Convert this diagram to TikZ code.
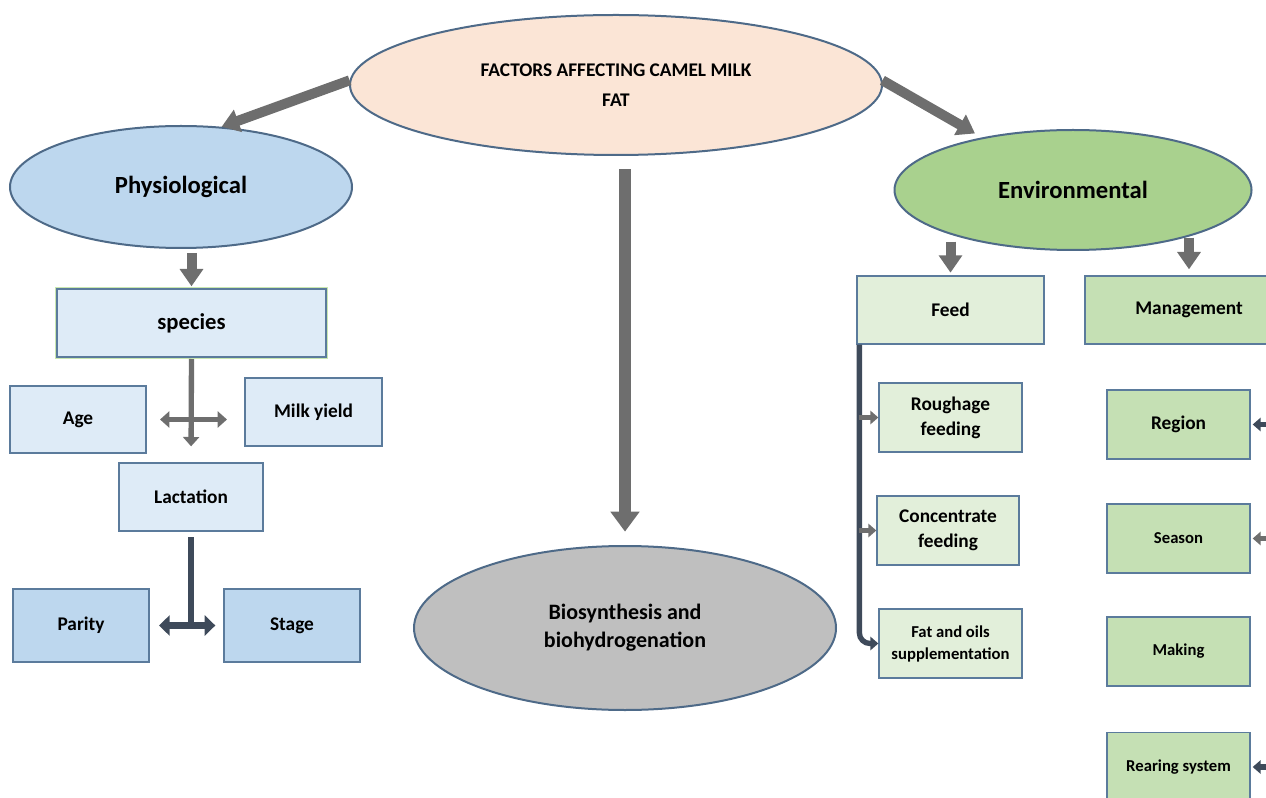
\documentclass[tikz,border=0pt]{standalone}
\usepackage{fontspec}
\setmainfont{Carlito}
\usetikzlibrary{shapes.geometric,arrows.meta}

\definecolor{peach}{HTML}{FBE5D6}
\definecolor{physblue}{HTML}{BDD7EE}
\definecolor{paleblue}{HTML}{DEEBF7}
\definecolor{envgreen}{HTML}{A9D18E}
\definecolor{palegreen}{HTML}{E2EFDA}
\definecolor{midgreen}{HTML}{C5E0B4}
\definecolor{biogray}{HTML}{BFBFBF}
\definecolor{edgeblue}{HTML}{5B7B9C}
\definecolor{rimblue}{HTML}{4E6A88}
\definecolor{arrowgray}{HTML}{6E6E6E}
\definecolor{darkline}{HTML}{3E4A5A}
\definecolor{glowgreen}{HTML}{C9E7B0}

\tikzset{
  oval/.style={ellipse, draw=rimblue, line width=1.5pt, inner sep=0pt, align=center},
  factor/.style={rectangle, draw=edgeblue, line width=1pt, inner sep=2pt, align=center,
    font=\fontsize{14.5}{18.75}\selectfont\bfseries},
  smalltext/.style={font=\fontsize{12.5}{16.5}\selectfont\bfseries},
  bigarrow/.style={draw=arrowgray, line width=7.5pt, -{Triangle[width=17pt,length=13pt]}},
  thinarrow/.style={draw=arrowgray, line width=4pt, -{Triangle[width=12pt,length=7pt]}},
  darkarrow/.style={draw=darkline, line width=4pt, -{Triangle[width=10pt,length=6pt]}}
}

\begin{document}
\begin{tikzpicture}[x=0.75pt,y=-0.75pt]
\useasboundingbox (0,0) rectangle (1266,798);

% ellipses
\node[oval, fill=peach, minimum width=399pt, minimum height=105pt,
  font=\fontsize{14.5}{22.5}\selectfont\bfseries] (title) at (616,85)
  {FACTORS AFFECTING CAMEL MILK\\FAT};
\node[oval, fill=physblue, minimum width=256.5pt, minimum height=91.5pt,
  font=\fontsize{18.5}{22}\selectfont\bfseries] (phys) at (181,187) {Physiological};
\node[oval, fill=envgreen, minimum width=267.75pt, minimum height=90pt,
  font=\fontsize{18.5}{22}\selectfont\bfseries] (env) at (1073,190) {Environmental};
\node[oval, fill=biogray, minimum width=316.5pt, minimum height=123pt,
  font=\fontsize{16.5}{21}\selectfont\bfseries] (bio) at (625,628)
  {Biosynthesis and\\biohydrogenation};

% physiological side
\node[factor, fill=paleblue, minimum width=201.75pt, minimum height=51pt,
  font=\fontsize{17}{20}\selectfont\bfseries,
  preaction={draw=glowgreen, line width=3pt}] (species) at (191.5,323) {species};
\node[factor, fill=paleblue, minimum width=102pt, minimum height=50.25pt] (age) at (78,419.5) {Age};
\node[factor, fill=paleblue, minimum width=102.75pt, minimum height=51pt] (milk) at (313.5,412) {Milk yield};
\node[factor, fill=paleblue, minimum width=108pt, minimum height=51pt] (lact) at (191,497) {Lactation};
\node[factor, fill=physblue, minimum width=102pt, minimum height=54.75pt] (parity) at (81,625.5) {Parity};
\node[factor, fill=physblue, minimum width=102pt, minimum height=54.75pt] (stage) at (292,625.5) {Stage};

% environmental side
\node[factor, fill=palegreen, minimum width=140.25pt, minimum height=51pt] (feed) at (950.5,310) {Feed};
\node[factor, fill=midgreen, minimum width=156pt, minimum height=51pt] (mgmt) at (1189,310) {Management};
\node[factor, fill=palegreen, minimum width=107.25pt, minimum height=51.75pt] (rough) at (950.5,417.5) {Roughage\\feeding};
\node[factor, fill=palegreen, minimum width=106.5pt, minimum height=51.75pt] (conc) at (948,530.5) {Concentrate\\feeding};
\node[factor, smalltext, fill=palegreen, minimum width=107.25pt, minimum height=51.75pt] (fatoil) at (950.5,643.5) {Fat and oils\\supplementation};
\node[factor, fill=midgreen, minimum width=107.25pt, minimum height=51.75pt] (region) at (1178.5,424.5) {Region};
\node[factor, smalltext, fill=midgreen, minimum width=107.25pt, minimum height=51.75pt] (season) at (1178.5,538.5) {Season};
\node[factor, smalltext, fill=midgreen, minimum width=107.25pt, minimum height=51.75pt] (making) at (1178.5,651.5) {Making};
\node[factor, smalltext, fill=midgreen, minimum width=107.25pt, minimum height=51.75pt] (rearing) at (1178.5,767) {Rearing system};

% main arrows
\draw[bigarrow] (title.179) -- (phys.56);
\draw[bigarrow, shorten >=6pt] (title.1) -- (env.150);
\draw[draw=arrowgray, line width=8.5pt, -{Triangle[width=21pt,length=15pt]},
  shorten <=10pt, shorten >=10pt] (title.south -| bio.north) -- (bio.north);
\draw[bigarrow, shorten <=3pt, shorten >=1.5pt] (species.north |- phys.south) -- (species.north);
\draw[bigarrow, shorten <=-7pt, shorten >=2pt] (feed.north |- env.south) -- (feed.north);
\draw[bigarrow, shorten <=-10pt, shorten >=4.5pt] (mgmt.north |- env.south) -- (mgmt.north);

% species / lactation links
\draw[thinarrow, shorten <=1pt, shorten >=12pt] (species.south) -- (lact.north);
\draw[thinarrow, {Triangle[width=12pt,length=7pt]}-{Triangle[width=12pt,length=7pt]},
  shorten <=10pt, shorten >=13pt] (age.east) -- (age.east -| milk.west);
\draw[draw=darkline, line width=4.5pt, shorten <=4pt] (lact.south) -- (lact.south |- parity.east);
\draw[draw=darkline, line width=5.5pt, {Triangle[width=15pt,length=8pt]}-{Triangle[width=15pt,length=8pt]},
  shorten <=7pt, shorten >=6pt] (parity.east) -- (stage.west);

% feed bracket
\coordinate (fb) at ([xshift=2.25pt]feed.south west);
\draw[darkarrow, rounded corners=8pt] (fb) |- (fatoil.west);
\draw[thinarrow, line width=3.5pt, -{Triangle[width=10pt,length=6pt]}] (fb |- rough.west) -- (rough.west);
\draw[thinarrow, line width=3.5pt, -{Triangle[width=10pt,length=6pt]}] (fb |- conc.west) -- (conc.west);

% arrows from the right edge
\coordinate (edge) at (1268,0);
\draw[darkarrow, shorten >=1.5pt] (edge |- region.east) -- (region.east);
\draw[thinarrow, line width=3.5pt, -{Triangle[width=10pt,length=6pt]}, shorten >=1.5pt] (edge |- season.east) -- (season.east);
\draw[darkarrow, shorten >=1.5pt] (edge |- rearing.east) -- (rearing.east);
\end{tikzpicture}
\end{document}
